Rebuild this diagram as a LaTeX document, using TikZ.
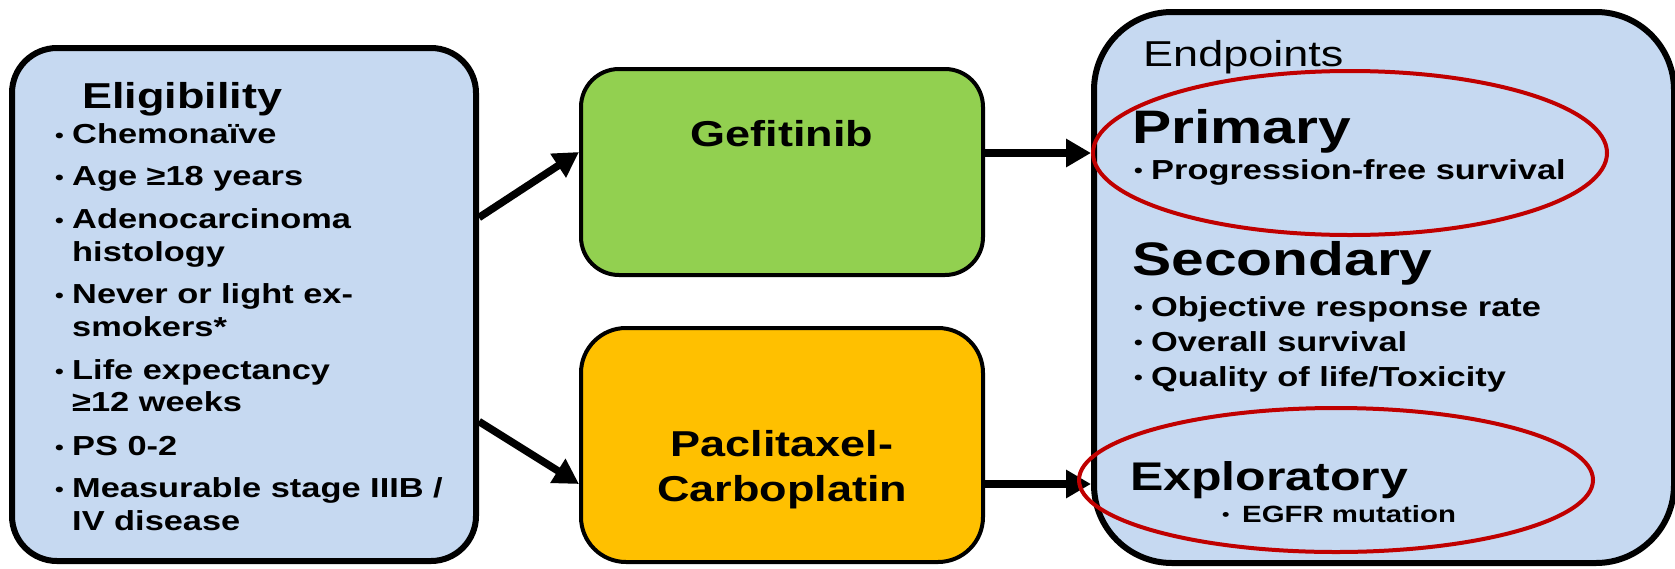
\documentclass[tikz,border=0pt]{standalone}
\usepackage{fontspec}
\usepackage{graphicx}
\setmainfont{Liberation Sans}[FakeStretch=1.25]
\usetikzlibrary{arrows.meta,shapes.geometric}
\definecolor{lblue}{HTML}{C6D9F1}
\definecolor{lgreen}{HTML}{92D050}
\definecolor{lorange}{HTML}{FFC000}
\definecolor{dred}{HTML}{C00000}
\newcommand\fElig{\fontsize{36}{40}\selectfont\bfseries}
\newcommand\fItem{\fontsize{27.5}{30}\selectfont\bfseries}
\newcommand\fArm{\fontsize{36}{40}\selectfont\bfseries}
\newcommand\fEnd{\fontsize{36}{40}\selectfont}
\newcommand\fBig{\fontsize{47}{50}\selectfont\bfseries}
\newcommand\fExp{\fontsize{40}{44}\selectfont\bfseries}
\newcommand\fSmall{\fontsize{23.5}{26}\selectfont\bfseries}
\newcommand\mybul[2]{\makebox[#1][l]{\raisebox{#2}{\scalebox{0.72}{•}}}}
\begin{document}
\begin{tikzpicture}[x=1pt,y=-1pt,
  box/.style={draw=black, inner sep=0pt},
  txt/.style={anchor=base west, inner sep=0pt, text=black},
  ctxt/.style={anchor=base, inner sep=0pt, text=black},
  arr/.style={line width=7.5pt, -{Triangle[length=25pt,width=27pt]}},
  oval/.style={draw=dred, line width=4pt, ellipse, inner sep=0pt}]
\useasboundingbox (0,0) rectangle (1675,568);
\fill[white] (0,0) rectangle (1675,568);

% boxes
\node[box, fill=lblue, line width=6pt, rounded corners=45pt,
      minimum width=464pt, minimum height=513pt] (elig) at (244,304.5) {};
\node[box, fill=lgreen, line width=4pt, rounded corners=38pt,
      minimum width=402pt, minimum height=206pt] (gef) at (782,172) {};
\node[box, fill=lorange, line width=4pt, rounded corners=45pt,
      minimum width=402pt, minimum height=234pt] (pac) at (782,445) {};
\node[box, fill=lblue, line width=6pt, rounded corners=78pt,
      minimum width=580pt, minimum height=551pt] (endp) at (1384,287.5) {};

% connectors
\draw[arr] ([yshift=87pt]elig.east) -- ([yshift=20pt]gef.west);
\draw[arr] ([yshift=-117pt]elig.east) -- ([yshift=-39pt]pac.west);
\coordinate (gR) at ([yshift=19pt]gef.east);
\coordinate (pR) at ([yshift=-39pt]pac.east);
\draw[arr] (gR) -- (gR -| endp.west);
\draw[arr] (pR) -- (pR -| endp.west);

% eligibility text
\node[txt, font=\fElig] (tElig) at (82,108) {Eligibility};
\node[txt, font=\fItem] (e1) at (55,143) {\mybul{17pt}{1pt}Chemonaïve};
\node[txt, font=\fItem] (e2) at (55,185) {\mybul{17pt}{1pt}Age ≥18 years};
\node[txt, font=\fItem] (e3) at (55,228) {\mybul{17pt}{1pt}Adenocarcinoma};
\node[txt, font=\fItem] (e3b) at (72,261) {histology};
\node[txt, font=\fItem] (e4) at (55,303) {\mybul{17pt}{1pt}Never or light ex-};
\node[txt, font=\fItem] (e4b) at (72,336) {smokers*};
\node[txt, font=\fItem] (e5) at (55,379) {\mybul{17pt}{1pt}Life expectancy};
\node[txt, font=\fItem] (e5b) at (72,411) {≥12 weeks};
\node[txt, font=\fItem] (e6) at (55,455) {\mybul{17pt}{1pt}PS 0-2};
\node[txt, font=\fItem] (e7) at (55,497) {\mybul{17pt}{1pt}Measurable stage IIIB /};
\node[txt, font=\fItem] (e7b) at (72,530) {IV disease};

% arm text
\node[ctxt, font=\fArm] (tGef) at (782,146) {Gefitinib};
\node[ctxt, font=\fArm] (tPac1) at (782,456) {Paclitaxel-};
\node[ctxt, font=\fArm] (tPac2) at (782,501) {Carboplatin};

% endpoints text
\node[txt, font=\fEnd] (tEnd) at (1143,66) {Endpoints};
\node[txt, font=\fBig] (tPri) at (1132,143) {Primary};
\node[txt, font=\fItem] (p1) at (1134,179) {\mybul{17pt}{2pt}Progression-free survival};
\node[txt, font=\fBig] (tSec) at (1132,275) {Secondary};
\node[txt, font=\fItem] (s1) at (1134,316) {\mybul{17pt}{2pt}Objective response rate};
\node[txt, font=\fItem] (s2) at (1134,351) {\mybul{17pt}{2pt}Overall survival};
\node[txt, font=\fItem] (s3) at (1134,386) {\mybul{17pt}{2pt}Quality of life/Toxicity};
\node[txt, font=\fExp] (tExp) at (1130,490) {Exploratory};
\node[txt, font=\fSmall] (x1) at (1222,522) {\mybul{20pt}{2pt}EGFR mutation};

% red ovals
\node[oval, minimum width=514pt, minimum height=164pt] (ovP) at (1350,153) {};
\node[oval, minimum width=514pt, minimum height=144pt] (ovE) at (1336,480) {};
\end{tikzpicture}
\end{document}
